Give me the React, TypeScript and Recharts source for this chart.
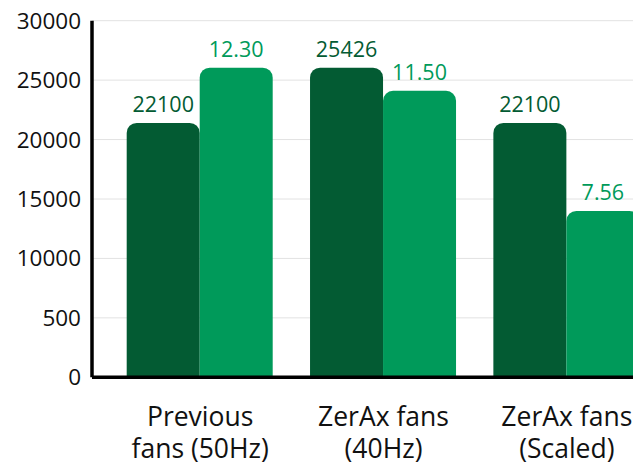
import React from "react";
import { BarChart, Bar, XAxis, YAxis, CartesianGrid, LabelList } from "recharts";

const categories = ["Previous\nfans (50Hz)", "ZerAx fans\n(40Hz)", "ZerAx fans\n(Scaled)"];
const darkHeights = [21400, 26050, 21400];
const lightHeights = [26050, 24100, 14000];
const darkLabels = ["22100", "25426", "22100"];
const lightLabels = ["12.30", "11.50", "7.56"];
const yTicks = [0, 5000, 10000, 15000, 20000, 25000, 30000];
const yTickLabels = ["0", "500", "10000", "15000", "20000", "25000", "30000"];

const DARK = "#035B33";
const LIGHT = "#009A5A";
const FONT = "'Open Sans', sans-serif";

const data = categories.map((c, i) => ({
  name: c,
  dark: darkHeights[i],
  light: lightHeights[i],
  darkLabel: darkLabels[i],
  lightLabel: lightLabels[i],
}));

const XTick = (props: any) => {
  const { x, y, payload } = props;
  const lines = String(payload.value).split("\n");
  return (
    <text x={x} y={y} textAnchor="middle" fontSize={26.5} fill="#111" fontFamily={FONT}>
      {lines.map((l, i) => (
        <tspan key={i} x={x} y={y + 48.7 + i * 32.3}>
          {l}
        </tspan>
      ))}
    </text>
  );
};

export default function App() {
  return (
    <div style={{ position: "absolute", left: 0, top: 0, width: 633, height: 468, overflow: "hidden", background: "#fff" }}>
      <BarChart
        width={680}
        height={468}
        data={data}
        margin={{ top: 20.7, right: 21.5, bottom: 0, left: 0 }}
        barCategoryGap={18.2}
        barGap={0}
      >
        <CartesianGrid vertical={false} stroke="#e2e2e2" strokeWidth={1} />
        <XAxis
          dataKey="name"
          height={90.7}
          padding={{ left: 16.5, right: 0 }}
          tickLine={false}
          tickSize={0}
          tickMargin={0}
          axisLine={{ stroke: "#000", strokeWidth: 3.5 }}
          tick={<XTick />}
          interval={0}
        />
        <YAxis
          width={92}
          domain={[0, 30000]}
          ticks={yTicks}
          tickFormatter={(v: number, i: number) => yTickLabels[i]}
          tickLine={false}
          tickSize={0}
          tickMargin={11}
          axisLine={{ stroke: "#000", strokeWidth: 3.5 }}
          tick={{ fontSize: 22.5, fill: "#111", fontFamily: FONT }}
          interval={0}
        />
        <Bar dataKey="dark" fill={DARK} radius={[10, 10, 0, 0]} isAnimationActive={false}>
          <LabelList dataKey="darkLabel" position="top" offset={11} fill={DARK} fontSize={21.5} fontFamily={FONT} />
        </Bar>
        <Bar dataKey="light" fill={LIGHT} radius={[10, 10, 0, 0]} isAnimationActive={false}>
          <LabelList dataKey="lightLabel" position="top" offset={11} fill={LIGHT} fontSize={21.5} fontFamily={FONT} />
        </Bar>
      </BarChart>
    </div>
  );
}
